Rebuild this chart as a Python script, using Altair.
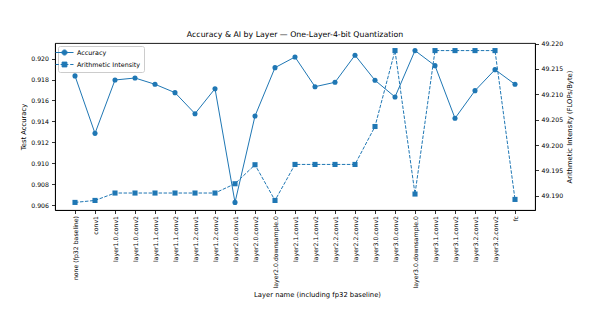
import altair as alt
import pandas as pd

layers = [
    "none (fp32 baseline)", "conv1",
    "layer1.0.conv1", "layer1.0.conv2", "layer1.1.conv1", "layer1.1.conv2",
    "layer1.2.conv1", "layer1.2.conv2",
    "layer2.0.conv1", "layer2.0.conv2", "layer2.0.downsample.0",
    "layer2.1.conv1", "layer2.1.conv2", "layer2.2.conv1", "layer2.2.conv2",
    "layer3.0.conv1", "layer3.0.conv2", "layer3.0.downsample.0",
    "layer3.1.conv1", "layer3.1.conv2", "layer3.2.conv1", "layer3.2.conv2",
    "fc",
]

accuracy = [
    0.91835, 0.91286, 0.91796, 0.91815, 0.91755, 0.91675, 0.91474, 0.91713,
    0.90626, 0.91452, 0.91914, 0.92016, 0.91732, 0.91774, 0.92033, 0.91793,
    0.91634, 0.92077, 0.91933, 0.91430, 0.91694, 0.91895, 0.91755,
]

intensity = [
    49.18868, 49.18907, 49.19053, 49.19053, 49.19053, 49.19053, 49.19053, 49.19053,
    49.19236, 49.19611, 49.18907, 49.19617, 49.19617, 49.19617, 49.19617, 49.20365,
    49.21862, 49.19033, 49.21862, 49.21862, 49.21862, 49.21862, 49.18927,
]

acc_ticks = [0.906, 0.908, 0.910, 0.912, 0.914, 0.916, 0.918, 0.920]
ai_ticks = [49.190, 49.195, 49.200, 49.205, 49.210, 49.215, 49.220]

series_names = ["Accuracy", "Arithmetic Intensity"]

BLUE = "#1f77b4"
FONT = "DejaVu Sans"

df = pd.DataFrame({"layer": layers, "acc": accuracy, "ai": intensity})
legend_df = pd.DataFrame({"series": series_names})


def padded(vals, frac=0.05):
    lo, hi = min(vals), max(vals)
    r = hi - lo
    return [lo - frac * r, hi + frac * r]


x_enc = alt.X(
    "layer:N",
    sort=layers,
    scale=alt.Scale(padding=1.1),
    axis=alt.Axis(
        title="Layer name (including fp32 baseline)",
        labelAngle=270,
        labelFontSize=6.2,
        labelPadding=2,
        tickSize=3.5,
        titleFontSize=6.8,
        titleX=262,
        titleAlign="center",
        titlePadding=4,
    ),
)

y_left = alt.Y(
    "acc:Q",
    scale=alt.Scale(domain=padded(accuracy), nice=False, zero=False),
    axis=alt.Axis(
        title="Test Accuracy",
        values=acc_ticks,
        format=".3f",
        labelFontSize=6.2,
        tickSize=3.5,
        labelPadding=3,
        titleFontSize=6.8,
        titlePadding=4,
        grid=False,
    ),
)

y_right = alt.Y(
    "ai:Q",
    scale=alt.Scale(domain=padded(intensity), nice=False, zero=False),
    axis=alt.Axis(
        title="Arithmetic Intensity (FLOPs/Byte)",
        orient="right",
        values=ai_ticks,
        format=".3f",
        labelFontSize=6.2,
        tickSize=3.5,
        labelPadding=2.5,
        titleFontSize=6.8,
        titleAngle=270,
        titleBaseline="top",
        titlePadding=4,
        grid=False,
    ),
)

base = alt.Chart(df)

acc_line = base.mark_line(color=BLUE, strokeWidth=1).encode(x=x_enc, y=y_left)
acc_pts = base.mark_point(shape="circle", filled=True, color=BLUE, size=26, opacity=1).encode(
    x=x_enc, y=y_left
)

acc_path = "M-3,0H3M0.85,0A0.85,0.85,0,1,1,-0.85,0A0.85,0.85,0,1,1,0.85,0Z"
ai_path = "M-3,0H-1.9M-1.3,0H1.3M1.9,0H3M-0.8,-0.8H0.8V0.8H-0.8Z"

legend_layer = alt.Chart(legend_df).mark_point(filled=True, opacity=0).encode(
    color=alt.Color(
        "series:N",
        scale=alt.Scale(domain=series_names, range=[BLUE, BLUE]),
        legend=alt.Legend(
            title=None,
            orient="top-left",
            offset=3,
            padding=3,
            fillColor="white",
            strokeColor="#cccccc",
            cornerRadius=2,
            labelFontSize=6.4,
            labelOffset=9,
            symbolSize=36,
            symbolOpacity=1,
            symbolStrokeColor=BLUE,
            symbolStrokeWidth=1,
            rowPadding=2,
        ),
    ),
    shape=alt.Shape(
        "series:N",
        scale=alt.Scale(domain=series_names, range=[acc_path, ai_path]),
        legend=None,
    ),
)

ai_line = base.mark_line(color=BLUE, strokeWidth=1, strokeDash=[3.5, 1.5]).encode(
    x=x_enc, y=y_right
)
ai_pts = base.mark_point(shape="square", filled=True, color=BLUE, size=26, opacity=1).encode(
    x=x_enc, y=y_right
)

left = alt.layer(acc_line, acc_pts, legend_layer)
right = alt.layer(ai_line, ai_pts)

chart = (
    alt.layer(left, right)
    .resolve_scale(y="independent", color="independent", shape="independent")
    .properties(
        width=480,
        height=167,
        title=alt.Title(
            "Accuracy & AI by Layer \u2014 One-Layer-4-bit Quantization",
            fontSize=7.8,
            fontWeight="normal",
            anchor="middle",
            offset=2,
            font=FONT,
        ),
        autosize=alt.AutoSizeParams(type="none"),
        padding={"left": 47, "top": 35, "right": 53, "bottom": 100},
    )
    .configure(font=FONT)
    .configure_view(stroke="black", strokeWidth=0.9)
    .configure_axis(
        domainColor="black",
        domainWidth=0.9,
        tickColor="black",
        tickWidth=0.8,
        labelColor="black",
        titleColor="black",
        titleFontWeight="normal",
        labelFont=FONT,
        titleFont=FONT,
    )
    .configure_legend(labelFont=FONT, labelColor="black")
)

chart.save("out.html", embed_options={"renderer": "svg", "actions": False})
